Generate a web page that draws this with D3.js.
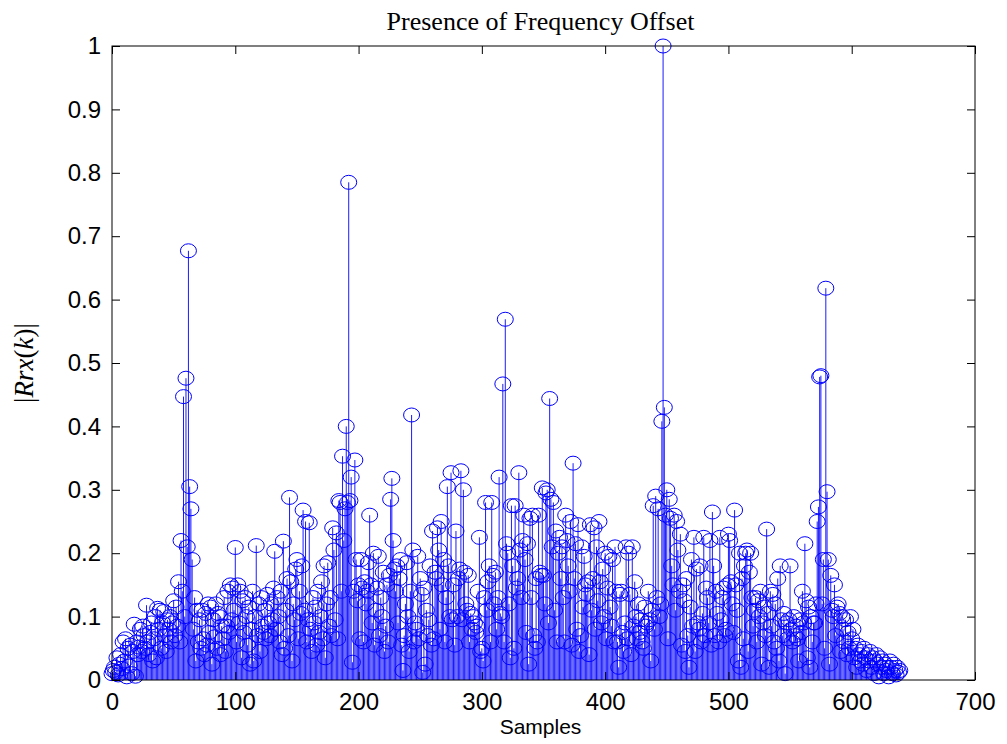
<!DOCTYPE html>
<html>
<head>
<meta charset="utf-8">
<script src="https://cdn.jsdelivr.net/npm/d3@7"></script>
<style>
  body { margin: 0; background: #fff; }
  svg { display: block; }
</style>
</head>
<body>
<div id="chart"></div>
<script>
// |Rrx(k)|, one row of ten samples per line (sample k = 0..639)
const rrx = [
  0.010, 0.015, 0.020, 0.012, 0.035, 0.008, 0.025, 0.040, 0.018, 0.060,
  0.030, 0.065, 0.005, 0.050, 0.022, 0.055, 0.010, 0.045, 0.088, 0.006,
  0.060, 0.040, 0.052, 0.080, 0.045, 0.085, 0.070, 0.050, 0.118, 0.060,
  0.040, 0.075, 0.090, 0.030, 0.065, 0.100, 0.035, 0.113, 0.080, 0.110,
  0.050, 0.090, 0.108, 0.070, 0.045, 0.095, 0.080, 0.100, 0.060, 0.090,
  0.125, 0.070, 0.115, 0.085, 0.155, 0.060, 0.220, 0.140, 0.447, 0.100,
  0.476, 0.210, 0.677, 0.305, 0.270, 0.190, 0.080, 0.130, 0.030, 0.110,
  0.060, 0.095, 0.050, 0.110, 0.065, 0.040, 0.105, 0.055, 0.120, 0.075,
  0.115, 0.025, 0.095, 0.068, 0.120, 0.050, 0.105, 0.100, 0.040, 0.085,
  0.065, 0.130, 0.045, 0.085, 0.140, 0.075, 0.150, 0.095, 0.145, 0.110,
  0.209, 0.060, 0.150, 0.090, 0.140, 0.035, 0.125, 0.075, 0.130, 0.100,
  0.055, 0.115, 0.025, 0.080, 0.140, 0.030, 0.100, 0.212, 0.070, 0.120,
  0.045, 0.130, 0.085, 0.075, 0.110, 0.065, 0.135, 0.090, 0.070, 0.120,
  0.095, 0.145, 0.203, 0.080, 0.130, 0.100, 0.060, 0.140, 0.040, 0.219,
  0.050, 0.110, 0.160, 0.070, 0.288, 0.155, 0.030, 0.120, 0.095, 0.175,
  0.190, 0.065, 0.140, 0.105, 0.180, 0.268, 0.110, 0.250, 0.060, 0.095,
  0.248, 0.080, 0.045, 0.130, 0.090, 0.115, 0.055, 0.140, 0.075, 0.100,
  0.155, 0.065, 0.180, 0.035, 0.120, 0.185, 0.085, 0.130, 0.070, 0.240,
  0.205, 0.095, 0.232, 0.065, 0.283, 0.280, 0.140, 0.353, 0.220, 0.270,
  0.400, 0.280, 0.785, 0.283, 0.320, 0.028, 0.140, 0.347, 0.190, 0.125,
  0.150, 0.065, 0.190, 0.145, 0.060, 0.155, 0.120, 0.140, 0.185, 0.260,
  0.150, 0.090, 0.200, 0.055, 0.110, 0.145, 0.195, 0.070, 0.130, 0.100,
  0.170, 0.045, 0.085, 0.150, 0.060, 0.165, 0.285, 0.318, 0.220, 0.175,
  0.140, 0.180, 0.090, 0.160, 0.190, 0.055, 0.015, 0.070, 0.120, 0.185,
  0.100, 0.045, 0.140, 0.418, 0.205, 0.060, 0.090, 0.080, 0.195, 0.065,
  0.160, 0.135, 0.012, 0.145, 0.025, 0.110, 0.070, 0.095, 0.180, 0.055,
  0.235, 0.065, 0.170, 0.160, 0.240, 0.205, 0.080, 0.250, 0.150, 0.190,
  0.060, 0.130, 0.305, 0.180, 0.100, 0.327, 0.095, 0.150, 0.055, 0.235,
  0.100, 0.160, 0.175, 0.330, 0.095, 0.300, 0.170, 0.120, 0.110, 0.165,
  0.060, 0.105, 0.080, 0.100, 0.090, 0.075, 0.085, 0.140, 0.225, 0.045,
  0.050, 0.030, 0.130, 0.280, 0.110, 0.155, 0.180, 0.060, 0.280, 0.165,
  0.120, 0.170, 0.080, 0.130, 0.320, 0.105, 0.100, 0.467, 0.060, 0.569,
  0.215, 0.200, 0.120, 0.035, 0.275, 0.180, 0.050, 0.275, 0.145, 0.160,
  0.327, 0.205, 0.130, 0.220, 0.260, 0.190, 0.075, 0.215, 0.025, 0.255,
  0.130, 0.260, 0.070, 0.050, 0.160, 0.060, 0.260, 0.170, 0.165, 0.303,
  0.165, 0.120, 0.295, 0.300, 0.090, 0.444, 0.285, 0.210, 0.280, 0.110,
  0.235, 0.060, 0.200, 0.225, 0.160, 0.210, 0.130, 0.060, 0.260, 0.220,
  0.180, 0.140, 0.250, 0.055, 0.342, 0.160, 0.215, 0.080, 0.245, 0.045,
  0.070, 0.210, 0.115, 0.195, 0.150, 0.135, 0.155, 0.040, 0.245, 0.110,
  0.160, 0.240, 0.080, 0.210, 0.125, 0.250, 0.155, 0.090, 0.175, 0.100,
  0.200, 0.065, 0.145, 0.195, 0.115, 0.085, 0.190, 0.060, 0.210, 0.140,
  0.060, 0.020, 0.135, 0.140, 0.075, 0.045, 0.090, 0.210, 0.065, 0.200,
  0.135, 0.040, 0.210, 0.085, 0.155, 0.100, 0.065, 0.120, 0.075, 0.095,
  0.060, 0.050, 0.115, 0.085, 0.090, 0.140, 0.095, 0.030, 0.110, 0.275,
  0.080, 0.290, 0.130, 0.270, 0.100, 0.120, 0.408, 1.000, 0.430, 0.260,
  0.300, 0.065, 0.285, 0.255, 0.180, 0.150, 0.260, 0.110, 0.250, 0.205,
  0.140, 0.230, 0.055, 0.150, 0.125, 0.045, 0.160, 0.070, 0.020, 0.115,
  0.190, 0.085, 0.225, 0.045, 0.175, 0.090, 0.080, 0.180, 0.060, 0.105,
  0.225, 0.070, 0.145, 0.130, 0.090, 0.220, 0.055, 0.265, 0.180, 0.070,
  0.140, 0.105, 0.060, 0.225, 0.095, 0.130, 0.145, 0.070, 0.080, 0.150,
  0.230, 0.220, 0.155, 0.120, 0.075, 0.268, 0.150, 0.110, 0.030, 0.200,
  0.020, 0.160, 0.065, 0.180, 0.200, 0.205, 0.045, 0.170, 0.200, 0.130,
  0.085, 0.110, 0.130, 0.060, 0.125, 0.100, 0.140, 0.025, 0.090, 0.115,
  0.070, 0.238, 0.105, 0.020, 0.140, 0.085, 0.135, 0.060, 0.120, 0.050,
  0.160, 0.030, 0.180, 0.095, 0.070, 0.105, 0.010, 0.090, 0.065, 0.095,
  0.180, 0.080, 0.060, 0.100, 0.070, 0.085, 0.065, 0.030, 0.095, 0.075,
  0.140, 0.090, 0.215, 0.125, 0.035, 0.115, 0.020, 0.100, 0.060, 0.090,
  0.090, 0.120, 0.250, 0.273, 0.478, 0.480, 0.120, 0.190, 0.050, 0.618,
  0.297, 0.190, 0.025, 0.165, 0.110, 0.100, 0.150, 0.070, 0.115, 0.120,
  0.105, 0.045, 0.100, 0.080, 0.060, 0.095, 0.040, 0.075, 0.050, 0.100,
  0.065, 0.080, 0.035, 0.050, 0.020, 0.055, 0.040, 0.030, 0.045, 0.025,
  0.050, 0.035, 0.015, 0.040, 0.030, 0.045, 0.020, 0.035, 0.010, 0.030,
  0.040, 0.025, 0.005, 0.035, 0.020, 0.030, 0.010, 0.025, 0.015, 0.020,
  0.005, 0.030, 0.020, 0.010, 0.025, 0.015, 0.008, 0.020, 0.012, 0.015
];
const xTicks = [0, 100, 200, 300, 400, 500, 600, 700];
const yTicks = [0, 0.1, 0.2, 0.3, 0.4, 0.5, 0.6, 0.7, 0.8, 0.9, 1];

const margin = { top: 46, right: 32, bottom: 64, left: 112 };
const width = 1007 - margin.left - margin.right;
const height = 744 - margin.top - margin.bottom;

const svg = d3.select("#chart")
  .append("svg")
  .attr("width", 1007)
  .attr("height", 744);

const g = svg.append("g")
  .attr("transform", `translate(${margin.left},${margin.top})`);

const x = d3.scaleLinear().domain([0, 700]).range([0, width]);
const y = d3.scaleLinear().domain([0, 1]).range([height, 0]);

// stems
g.selectAll(".stem")
  .data(rrx)
  .enter()
  .append("line")
  .attr("class", "stem")
  .attr("x1", (d, i) => x(i))
  .attr("x2", (d, i) => x(i))
  .attr("y1", y(0))
  .attr("y2", (d) => y(d))
  .attr("stroke", "#0000ff")
  .attr("stroke-width", 0.9);

// circle markers
g.selectAll(".mark")
  .data(rrx)
  .enter()
  .append("ellipse")
  .attr("class", "mark")
  .attr("cx", (d, i) => x(i))
  .attr("cy", (d) => y(d))
  .attr("rx", 8)
  .attr("ry", 7)
  .attr("fill", "none")
  .attr("stroke", "#0000ff")
  .attr("stroke-width", 1);

// axes, matlab style: ticks inward on all four sides
const axFont = "Arial, 'Liberation Sans', sans-serif";
g.append("g")
  .attr("transform", `translate(0,${height})`)
  .call(d3.axisBottom(x).tickValues(xTicks).tickSize(-8).tickPadding(13).tickFormat(d3.format("d")));
g.append("g")
  .call(d3.axisLeft(y).tickValues(yTicks).tickSize(-8).tickPadding(11).tickFormat((d) => d === 0 || d === 1 ? String(d) : d3.format(".1f")(d)));
g.append("g")
  .call(d3.axisTop(x).tickValues(xTicks).tickSize(-8).tickFormat(""));
g.append("g")
  .attr("transform", `translate(${width},0)`)
  .call(d3.axisRight(y).tickValues(yTicks).tickSize(-8).tickFormat(""));

g.selectAll(".domain").remove();
g.selectAll(".tick line").attr("stroke", "#000");
g.selectAll(".tick text")
  .attr("font-family", axFont)
  .attr("font-size", 24)
  .attr("fill", "#000");

g.append("rect")
  .attr("width", width)
  .attr("height", height)
  .attr("fill", "none")
  .attr("stroke", "#000")
  .attr("stroke-width", 1);

// title and labels
svg.append("text")
  .attr("x", margin.left + width / 2 - 3)
  .attr("y", 30)
  .attr("text-anchor", "middle")
  .attr("font-family", "'Liberation Serif', 'Times New Roman', serif")
  .attr("font-size", 26)
  .text("Presence of Frequency Offset");

svg.append("text")
  .attr("x", margin.left + width / 2 - 3)
  .attr("y", 734)
  .attr("text-anchor", "middle")
  .attr("font-family", axFont)
  .attr("font-size", 21)
  .text("Samples");

const yl = svg.append("text")
  .attr("transform", `translate(33,${margin.top + height / 2}) rotate(-90)`)
  .attr("text-anchor", "middle")
  .attr("font-family", "'Liberation Serif', 'Times New Roman', serif")
  .attr("font-size", 27);
yl.append("tspan").text("|");
yl.append("tspan").attr("font-style", "italic").text("Rrx");
yl.append("tspan").text("(");
yl.append("tspan").attr("font-style", "italic").text("k");
yl.append("tspan").text(")|");
</script>
</body>
</html>
